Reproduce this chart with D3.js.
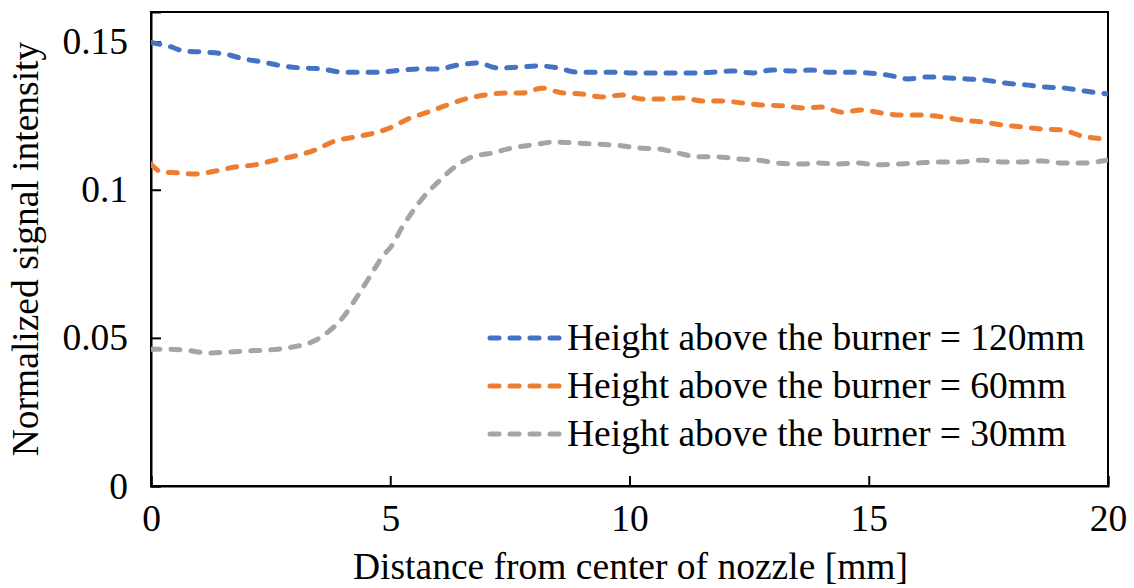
<!DOCTYPE html>
<html>
<head>
<meta charset="utf-8">
<script src="https://cdn.jsdelivr.net/npm/d3@7"></script>
<style>
  html, body { margin: 0; padding: 0; background: #fff; }
  svg { display: block; font-family: "Liberation Serif", "Times New Roman", serif; }
</style>
</head>
<body>
<svg id="chart" width="1134" height="588"></svg>
<script>
// Radial profiles of the normalized signal at three burner heights
const dist120 = [0, 0.36, 0.71, 1.09, 1.55, 1.96, 2.34, 2.74, 3.16, 3.57, 3.99, 4.41, 4.74, 5.25, 5.58, 6.00, 6.42, 6.83, 7.25, 7.67, 8.09, 8.51, 8.90, 9.28, 9.70, 10.11, 10.53, 10.95, 11.37, 11.74, 12.14, 12.56, 12.98, 13.46, 13.81, 14.15, 14.57, 14.98, 15.40, 15.82, 16.24, 16.66, 17.05, 17.43, 17.85, 18.27, 18.68, 19.10, 19.52, 20.0];
const signal120 = [0.1497, 0.1485, 0.1468, 0.1465, 0.1458, 0.1441, 0.1431, 0.1418, 0.1411, 0.1408, 0.1397, 0.1397, 0.1397, 0.1404, 0.1408, 0.1408, 0.1421, 0.1428, 0.1411, 0.1414, 0.1418, 0.1411, 0.1397, 0.1397, 0.1397, 0.1394, 0.1394, 0.1394, 0.1394, 0.1397, 0.1401, 0.1394, 0.1404, 0.1401, 0.1404, 0.1397, 0.1397, 0.1394, 0.1387, 0.1374, 0.1381, 0.1377, 0.1374, 0.1370, 0.1360, 0.1354, 0.1347, 0.1343, 0.1333, 0.1323];

const dist60 = [0, 0.23, 0.56, 0.92, 1.34, 1.76, 2.17, 2.59, 3.01, 3.43, 3.85, 4.26, 4.68, 5.04, 5.37, 5.79, 6.14, 6.56, 6.98, 7.40, 7.77, 8.17, 8.59, 9.01, 9.43, 9.84, 10.26, 10.68, 11.10, 11.52, 11.93, 12.35, 12.77, 13.25, 13.61, 14.02, 14.44, 14.86, 15.28, 15.69, 16.11, 16.53, 16.95, 17.37, 17.78, 18.20, 18.62, 19.04, 19.46, 20.0];
const signal60 = [0.1086, 0.1060, 0.1057, 0.1053, 0.1063, 0.1077, 0.1084, 0.1100, 0.1114, 0.1134, 0.1165, 0.1178, 0.1192, 0.1212, 0.1239, 0.1262, 0.1283, 0.1306, 0.1320, 0.1327, 0.1327, 0.1343, 0.1327, 0.1323, 0.1313, 0.1320, 0.1306, 0.1306, 0.1310, 0.1300, 0.1300, 0.1293, 0.1286, 0.1283, 0.1276, 0.1279, 0.1262, 0.1269, 0.1259, 0.1252, 0.1252, 0.1246, 0.1235, 0.1229, 0.1219, 0.1212, 0.1205, 0.1202, 0.1181, 0.1171];

const dist30 = [0, 0.15, 0.71, 1.19, 1.61, 2.03, 2.45, 2.95, 3.36, 3.70, 4.05, 4.33, 4.62, 4.83, 5.04, 5.25, 5.46, 5.73, 6.00, 6.35, 6.71, 7.13, 7.54, 7.96, 8.44, 8.86, 9.28, 9.70, 10.18, 10.60, 11.01, 11.43, 11.85, 12.27, 12.69, 13.10, 13.61, 13.94, 14.36, 14.78, 15.19, 15.61, 16.03, 16.45, 16.95, 17.37, 17.78, 18.20, 18.62, 19.04, 19.46, 20.0];
const signal30 = [0.0462, 0.0462, 0.0459, 0.0449, 0.0452, 0.0456, 0.0459, 0.0469, 0.0486, 0.0520, 0.0577, 0.0645, 0.0719, 0.0773, 0.0813, 0.0874, 0.0925, 0.0982, 0.1026, 0.1077, 0.1111, 0.1124, 0.1141, 0.1151, 0.1161, 0.1158, 0.1154, 0.1151, 0.1141, 0.1138, 0.1124, 0.1111, 0.1111, 0.1104, 0.1100, 0.1090, 0.1087, 0.1090, 0.1087, 0.1090, 0.1084, 0.1087, 0.1090, 0.1094, 0.1094, 0.1100, 0.1094, 0.1094, 0.1097, 0.1090, 0.1090, 0.1100];

const seriesLabels = ["Height above the burner = 120mm", "Height above the burner = 60mm", "Height above the burner = 30mm"];
const seriesColors = ["#4472C4", "#ED7D31", "#A5A5A5"];

const xTicks = [0, 5, 10, 15, 20];
const yTicks = [0, 0.05, 0.1, 0.15];
const xTickLabels = ["0", "5", "10", "15", "20"];
const yTickLabels = ["0", "0.05", "0.1", "0.15"];
const xTitle = "Distance from center of nozzle [mm]";
const yTitle = "Normalized signal intensity";

const series = [
  { label: seriesLabels[0], color: seriesColors[0], pts: d3.zip(dist120, signal120) },
  { label: seriesLabels[1], color: seriesColors[1], pts: d3.zip(dist60, signal60) },
  { label: seriesLabels[2], color: seriesColors[2], pts: d3.zip(dist30, signal30) }
];

const svg = d3.select("#chart");
const plot = { left: 151, right: 1108, top: 12, bottom: 486 };

const x = d3.scaleLinear().domain([0, 20]).range([plot.left, plot.right]);
const y = d3.scaleLinear().domain([0, 0.16]).range([plot.bottom, plot.top]);

const fontSize = 37.5;
const dashPattern = "9,11";

// frame around the plotting area
svg.append("rect")
  .attr("x", plot.left).attr("y", plot.top)
  .attr("width", plot.right - plot.left).attr("height", plot.bottom - plot.top)
  .attr("fill", "none").attr("stroke", "#000").attr("stroke-width", 2);

// axes with inward ticks
const xAxis = d3.axisBottom(x).tickValues(xTicks).tickSize(-10)
  .tickFormat((d, i) => xTickLabels[i]).tickPadding(18);
const yAxis = d3.axisLeft(y).tickValues(yTicks).tickSize(-10)
  .tickFormat((d, i) => yTickLabels[i]).tickPadding(23);

const gx = svg.append("g").attr("transform", `translate(0,${plot.bottom})`).call(xAxis);
const gy = svg.append("g").attr("transform", `translate(${plot.left},0)`).call(yAxis);

[gx, gy].forEach(g => {
  g.select(".domain").attr("stroke", "#000").attr("stroke-width", 2);
  g.selectAll(".tick line").attr("stroke", "#000").attr("stroke-width", 2);
  g.selectAll(".tick text")
    .attr("fill", "#000")
    .style("font-family", '"Liberation Serif", "Times New Roman", serif')
    .style("font-size", fontSize + "px");
});

// axis titles
svg.append("text")
  .attr("x", (plot.left + plot.right) / 2 + 1).attr("y", 579)
  .attr("text-anchor", "middle")
  .style("font-size", fontSize + "px")
  .text(xTitle);

svg.append("text")
  .attr("transform", `translate(38,${(plot.top + plot.bottom) / 2}) rotate(-90)`)
  .attr("text-anchor", "middle")
  .style("font-size", fontSize + "px")
  .text(yTitle);

// data lines
const line = d3.line()
  .x(d => x(d[0]))
  .y(d => y(d[1]))
  .curve(d3.curveMonotoneX);

svg.append("clipPath").attr("id", "plotClip")
  .append("rect")
  .attr("x", plot.left).attr("y", plot.top - 6)
  .attr("width", plot.right - plot.left).attr("height", plot.bottom - plot.top + 6);

svg.append("g").attr("clip-path", "url(#plotClip)")
  .selectAll("path.series")
  .data(series)
  .join("path")
  .attr("class", "series")
  .attr("d", d => line(d.pts))
  .attr("fill", "none")
  .attr("stroke", d => d.color)
  .attr("stroke-width", 5)
  .attr("stroke-linecap", "round")
  .attr("stroke-dasharray", dashPattern);

// legend
const legend = svg.append("g");
const legendRows = [338, 386, 434];
series.forEach((s, i) => {
  const ly = legendRows[i];
  legend.append("line")
    .attr("x1", 490).attr("x2", 562)
    .attr("y1", ly).attr("y2", ly)
    .attr("stroke", s.color)
    .attr("stroke-width", 5)
    .attr("stroke-linecap", "round")
    .attr("stroke-dasharray", dashPattern);
  legend.append("text")
    .attr("x", 567).attr("y", ly + 12)
    .style("font-size", fontSize + "px")
    .text(s.label);
});
</script>
</body>
</html>
